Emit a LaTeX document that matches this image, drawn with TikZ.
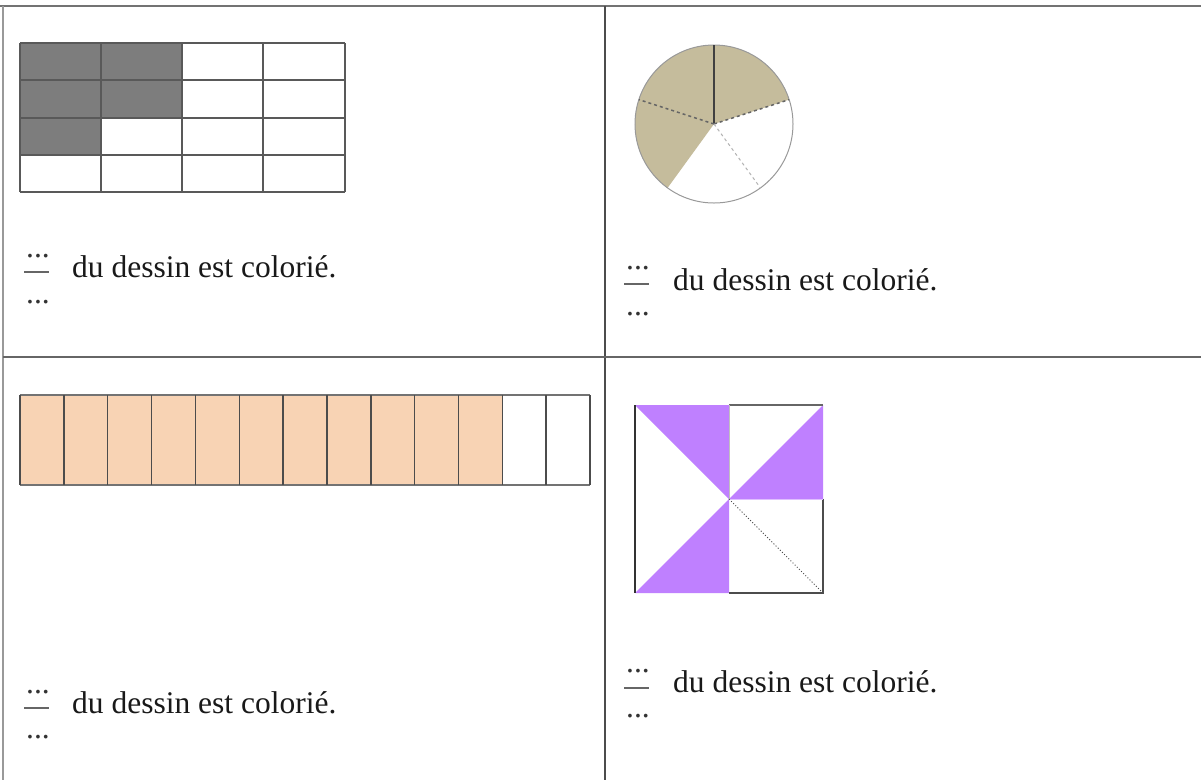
\documentclass[tikz,border=0pt]{standalone}
\usepackage{fontspec}
\setmainfont{Liberation Serif}
\definecolor{shadegray}{RGB}{125,125,125}
\definecolor{tan}{RGB}{197,188,156}
\definecolor{peach}{RGB}{248,211,180}
\definecolor{lilac}{RGB}{191,128,255}
\begin{document}
\begin{tikzpicture}[x=1pt,y=-1pt,
  txt/.style={font=\fontsize{31.5}{36}\selectfont, anchor=base west, inner sep=0pt, text=black!90},
  dotstxt/.style={font=\fontsize{31.5}{36}\selectfont, anchor=base west, inner sep=0pt, text=black!80},
  fbar/.style={line width=1.5pt, draw=black!60},
  gridline/.style={line width=1.5pt, draw=black!65},
  tableline/.style={line width=1.8pt, draw=black!55}]
\fill[white] (0,0) rectangle (1201,780);
\useasboundingbox (0,0) rectangle (1201,780);

% table
\draw[tableline, line width=2.5pt] (0,6) -- (1201,6);
\draw[tableline, draw=black!40] (3,6) -- (3,780);
\draw[tableline, draw=black!70, line width=1.5pt] (605,6) -- (605,780);
\draw[tableline, draw=black!60, line width=1.5pt] (3,357) -- (1201,357);

% top-left grid
\fill[shadegray] (20,43) rectangle (182,118);
\fill[shadegray] (20,118) rectangle (101,155);
\foreach \x in {20,101,182,263,345} \draw[gridline] (\x,43) -- (\x,192);
\foreach \y in {43,80,118,155,192} \draw[gridline] (20,\y) -- (345,\y);

% pie
\coordinate (pc) at (714,124);
\fill[tan] (pc) -- ++(-18:79) arc[start angle=-18, end angle=-234, radius=79] -- cycle;
\draw[black!40, line width=1pt] (pc) circle[radius=79];
\draw[black!75, line width=1.2pt] (pc) -- ++(-90:79);
\draw[black!60, line width=1.5pt, dashed] (pc) -- ++(-18:79);
\draw[black!60, line width=1.5pt, dashed] (pc) -- ++(-162:79);
\draw[black!30, line width=1pt, dashed] (pc) -- ++(54:79);

% bar of 13 cells
\fill[peach] (20,395) rectangle (503.4,485);
\draw[gridline, draw=black!55] (20,395) -- (590,395);
\draw[gridline, draw=black!55] (20,485) -- (590,485);
\foreach \i in {0,...,13} \draw[gridline, draw=black!70] ({20+\i*43.85},395) -- ({20+\i*43.85},485);

% pinwheel square
\coordinate (TL) at (635,405); \coordinate (TM) at (729,405); \coordinate (TR) at (823,405);
\coordinate (ML) at (635,499); \coordinate (C) at (729,499); \coordinate (MR) at (823,499);
\coordinate (BL) at (635,593); \coordinate (BM) at (729,593); \coordinate (BR) at (823,593);
\fill[lilac] (TL) -- (TM) -- (C) -- cycle;
\fill[lilac] (C) -- (TR) -- (MR) -- cycle;
\fill[lilac] (C) -- (BM) -- (BL) -- cycle;
\draw[black!80, line width=1.5pt] (TL) -- (BL);
\draw[black!60, line width=1.5pt] (TM) -- (TR);
\draw[black!70, line width=1.5pt] (MR) -- (BR) -- (BM);
\draw[black!25, line width=0.6pt] (TM) -- (C);
\draw[lilac!50, line width=0.8pt] (C) -- (MR);
\draw[black!70, line width=1pt, dotted] (C) -- (BR);

% texts top-left
\node[dotstxt] (n1) at (26,257) {...};
\draw[fbar] (24,272) -- (49,272);
\node[dotstxt] (d1) at (26,303) {...};
\node[txt] (t1) at (72,277) {du dessin est colorié.};

% texts top-right
\node[dotstxt] (n2) at (626,269) {...};
\draw[fbar] (624,284) -- (649,284);
\node[dotstxt] (d2) at (626,315) {...};
\node[txt] (t2) at (673,290) {du dessin est colorié.};

% texts bottom-left
\node[dotstxt] (n3) at (26,693) {...};
\draw[fbar] (24,708) -- (49,708);
\node[dotstxt] (d3) at (26,738) {...};
\node[txt] (t3) at (72,713) {du dessin est colorié.};

% texts bottom-right
\node[dotstxt] (n4) at (626,672) {...};
\draw[fbar] (624,688) -- (649,688);
\node[dotstxt] (d4) at (626,717) {...};
\node[txt] (t4) at (673,692) {du dessin est colorié.};
\end{tikzpicture}
\end{document}
